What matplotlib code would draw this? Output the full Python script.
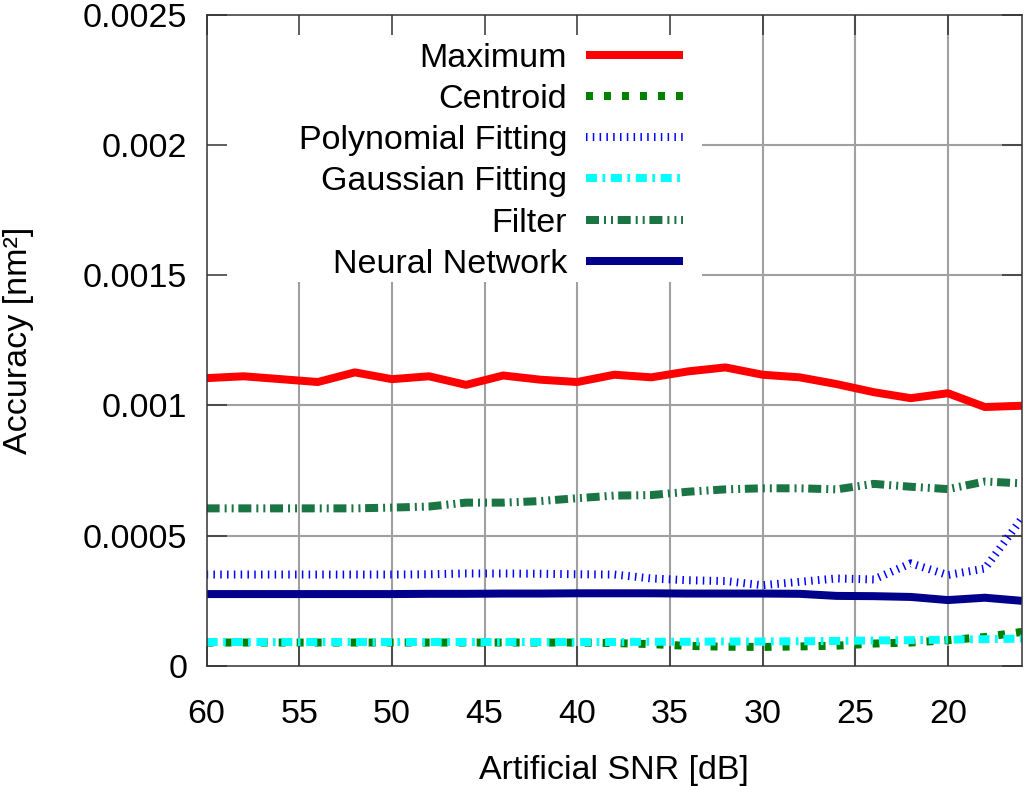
import matplotlib
matplotlib.use("Agg")
import matplotlib.pyplot as plt
from matplotlib.patches import Rectangle

# values (SNR runs 60 -> 16 dB in steps of 2)
snr = [60, 58, 56, 54, 52, 50, 48, 46, 44, 42, 40, 38, 36, 34, 32, 30, 28, 26, 24, 22, 20, 18, 16]

maximum = [1.105, 1.112, 1.101, 1.090, 1.127, 1.101, 1.112, 1.079, 1.115, 1.099, 1.090, 1.118,
           1.108, 1.131, 1.146, 1.118, 1.108, 1.082, 1.051, 1.028, 1.047, 0.994, 0.999]
centroid = [0.090, 0.090, 0.090, 0.090, 0.090, 0.090, 0.090, 0.090, 0.090, 0.090, 0.090, 0.088,
            0.084, 0.077, 0.074, 0.073, 0.075, 0.078, 0.086, 0.090, 0.099, 0.111, 0.131]
polynomial = [0.351, 0.351, 0.351, 0.351, 0.351, 0.351, 0.352, 0.355, 0.355, 0.354, 0.352, 0.351,
              0.336, 0.329, 0.326, 0.310, 0.323, 0.336, 0.332, 0.394, 0.349, 0.374, 0.567]
gaussian = [0.092, 0.092, 0.092, 0.092, 0.092, 0.092, 0.092, 0.092, 0.092, 0.092, 0.092, 0.092,
            0.093, 0.093, 0.094, 0.094, 0.095, 0.096, 0.098, 0.099, 0.101, 0.103, 0.105]
filt = [0.605, 0.605, 0.605, 0.605, 0.605, 0.608, 0.612, 0.627, 0.627, 0.633, 0.644, 0.654,
        0.656, 0.669, 0.678, 0.682, 0.682, 0.678, 0.699, 0.688, 0.679, 0.708, 0.701]
neural = [0.276, 0.276, 0.276, 0.276, 0.276, 0.276, 0.277, 0.277, 0.278, 0.278, 0.279, 0.279,
          0.279, 0.278, 0.278, 0.278, 0.277, 0.269, 0.268, 0.265, 0.253, 0.262, 0.250]

labels = ["Maximum", "Centroid", "Polynomial Fitting", "Gaussian Fitting", "Filter", "Neural Network"]
xticks = [60, 55, 50, 45, 40, 35, 30, 25, 20]
yticks = [0, 0.0005, 0.001, 0.0015, 0.002, 0.0025]

plt.rcParams['font.family'] = ['Liberation Sans', 'DejaVu Sans']
plt.rcParams['lines.scale_dashes'] = False

fig = plt.figure(figsize=(10.24, 7.86), dpi=100)
ax = fig.add_axes([0.2018, 0.1527, 0.7962, 0.8286])

px = 0.72  # one pixel in points
lw = 8 * px
styles = [
    dict(color='#ff0000', ls='-'),
    dict(color='#008000', ls=(0, (7 * px, 11 * px))),
    dict(color='#0000ff', ls=(0, (1.5 * px, 5.3 * px))),
    dict(color='#00ffff', ls=(0, (11 * px, 5.5 * px, 2.7 * px, 5.7 * px))),
    dict(color='#1a7443', ls=(0, (13 * px, 5 * px, 2 * px, 5 * px, 2 * px, 4.7 * px))),
    dict(color='#00008b', ls='-'),
]
series = [maximum, centroid, polynomial, gaussian, filt, neural]
for vals, lab, st in zip(series, labels, styles):
    ax.plot(snr, [v * 1e-3 for v in vals], label=lab, lw=lw, solid_capstyle='butt',
            dash_capstyle='butt', zorder=3, **st)

ax.set_xlim(60, 16)
ax.set_ylim(0, 0.0025)
ax.set_xticks(xticks)
ax.set_yticks(yticks)
ax.set_yticklabels(['0', '0.0005', '0.001', '0.0015', '0.002', '0.0025'])

# gnuplot-style grid, hidden behind the opaque key box
for xt in xticks[1:]:
    ax.axvline(xt, color='#a0a0a0', lw=1.5, zorder=0.5)
for yt in yticks[1:-1]:
    ax.axhline(yt, color='#a0a0a0', lw=1.5, zorder=0.5)
ax.add_patch(Rectangle((0, 0.59), 0.608, 0.41, transform=ax.transAxes,
                       facecolor='white', edgecolor='none', zorder=0.8))

ax.tick_params(direction='in', length=14.4, width=1.1, color='#333333',
               top=True, right=True, labelsize=24.5)
ax.tick_params(axis='x', pad=24)
ax.tick_params(axis='y', pad=14)
for sp in ax.spines.values():
    sp.set_color('#333333')
    sp.set_linewidth(1.1)
    sp.set_zorder(4)

ax.set_xlabel('Artificial SNR [dB]', fontsize=24.5, labelpad=18)
ax.set_ylabel('Accuracy [nm²]', fontsize=24.5, labelpad=35)

leg = ax.legend(loc='upper right', bbox_to_anchor=(0.584, 0.957), frameon=False,
                markerfirst=False, fontsize=24.5, handlelength=2.85, handletextpad=0.55,
                labelspacing=0.30, borderpad=0, borderaxespad=0)
leg.set_zorder(5)

plt.savefig('out.png', dpi=100)
